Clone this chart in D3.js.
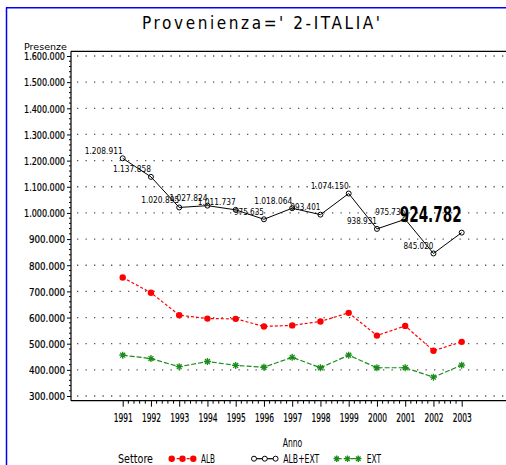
<!DOCTYPE html>
<html><head><meta charset="utf-8">
<script src="https://cdn.jsdelivr.net/npm/d3@7/dist/d3.min.js"></script>
<style>
html,body{margin:0;padding:0;background:#fff;}
svg{display:block;}
text{font-family:"DejaVu Sans Condensed","DejaVu Sans","Liberation Sans",sans-serif;}
</style></head>
<body>
<script>
const years = [1991,1992,1993,1994,1995,1996,1997,1998,1999,2000,2001,2002,2003];
const alb = [753000,695000,609000,596000,595000,566000,570000,585000,618000,531000,568000,473000,507000];
const albExt = [1208911,1137858,1020895,1027824,1011737,975635,1018064,993401,1074150,938931,975736,845020,924782];
const ext = [456000,443000,412000,432000,417000,410000,448000,408000,456000,408000,408000,372000,418000];
const yTicks = [300000,400000,500000,600000,700000,800000,900000,1000000,1100000,1200000,1300000,1400000,1500000,1600000];
const seriesNames = ["ALB","ALB+EXT","EXT"];
const title = "Provenienza=' 2-ITALIA'";

(function(){
const W=506,H=465;
const svg = d3.select("body").append("svg").attr("width",W).attr("height",H);
const fmt = v => d3.format(",")(v).replace(/,/g,".");
const fit = (sel,w) => sel.attr("textLength",w).attr("lengthAdjust","spacingAndGlyphs");

const x = d3.scaleLinear().domain([1991,2003]).range([122.7,461.7]);
const y = d3.scaleLinear().domain([300000,1600000]).range([396,56]);
const pLeft=71, pTop=51.3, pBottom=400.7, pRight=506;

// blue border
svg.append("line").attr("x1",6.5).attr("x2",6.5).attr("y1",7.5).attr("y2",H).attr("stroke","#0000ff").attr("stroke-width",1.5);
svg.append("line").attr("x1",6).attr("x2",W).attr("y1",7.8).attr("y2",7.8).attr("stroke","#0000ff").attr("stroke-width",1.5);

// title
svg.append("text").attr("x",142).attr("y",28.5).attr("font-size",17).attr("font-family","'DejaVu Sans Condensed',sans-serif")
  .attr("textLength",238).attr("lengthAdjust","spacing").text(title);

// grid
svg.append("g").selectAll("line").data(yTicks).join("line")
  .attr("x1",pLeft+6).attr("x2",pRight).attr("y1",d=>y(d)).attr("y2",d=>y(d))
  .attr("stroke","#555").attr("stroke-width",1.3).attr("stroke-dasharray","1.3,7.2");

// frame lines
svg.append("line").attr("x1",pLeft).attr("x2",pRight).attr("y1",pTop).attr("y2",pTop).attr("stroke","#000").attr("stroke-width",1.2);
svg.append("line").attr("x1",pLeft).attr("x2",pRight).attr("y1",pBottom).attr("y2",pBottom).attr("stroke","#000").attr("stroke-width",1.2);
svg.append("line").attr("x1",pLeft).attr("x2",pLeft).attr("y1",pTop).attr("y2",pBottom).attr("stroke","#000").attr("stroke-width",1.2);

// y axis
const yAxis = d3.axisLeft(y).tickValues(yTicks).tickSize(4).tickFormat(fmt).tickPadding(2);
const gy = svg.append("g").attr("transform",`translate(${pLeft},0)`).call(yAxis);
gy.select(".domain").remove();
gy.selectAll("text").attr("font-size",10.5).attr("font-family",null).attr("dy","0.36em")
  .attr("stroke","#000").attr("stroke-width",0.2)
  .each(function(d){ fit(d3.select(this), fmt(d).length>7 ? 41 : 36); });
const yMinor = [];
for(let i=0;i<yTicks.length-1;i++) for(let k=1;k<5;k++) yMinor.push(yTicks[i]+k*20000);
svg.append("g").selectAll("line").data(yMinor).join("line")
  .attr("x1",pLeft-2).attr("x2",pLeft).attr("y1",d=>y(d)).attr("y2",d=>y(d)).attr("stroke","#000");
fit(svg.append("text").attr("x",67).attr("y",50).attr("text-anchor","end").attr("font-size",9.5).text("Presenze"),43);

// x axis
const xAxis = d3.axisBottom(x).tickValues(years).tickFormat(d3.format("d")).tickSize(6).tickPadding(3);
const gx = svg.append("g").attr("transform",`translate(0,${pBottom})`).call(xAxis);
gx.select(".domain").remove();
gx.selectAll("text").attr("font-size",11.5).attr("font-family",null).attr("y",13).attr("dy","0.72em")
  .attr("stroke","#000").attr("stroke-width",0.2)
  .each(function(){ fit(d3.select(this),19); });
const xMinor=[];
for(let i=0;i<years.length-1;i++) for(let k=1;k<5;k++) xMinor.push(years[i]+k/5);
svg.append("g").selectAll("line").data(xMinor).join("line")
  .attr("x1",d=>x(d)).attr("x2",d=>x(d)).attr("y1",pBottom).attr("y2",pBottom+3).attr("stroke","#000");
fit(svg.append("text").attr("x",292.5).attr("y",446.5).attr("text-anchor","middle").attr("font-size",11.5).text("Anno"),19.6);

const line = d3.line().x((d,i)=>x(years[i])).y(d=>y(d));
const RED="#ff0000", GREEN="#1a8c1a";
const starPath = s => `M${-s},0L${s},0M0,${-s}L0,${s}M${-s*0.7},${-s*0.7}L${s*0.7},${s*0.7}M${-s*0.7},${s*0.7}L${s*0.7},${-s*0.7}`;

// EXT
svg.append("path").attr("d",line(ext)).attr("fill","none").attr("stroke",GREEN).attr("stroke-width",1.2).attr("stroke-dasharray","5,2");
svg.append("g").selectAll("path").data(ext).join("path")
  .attr("transform",(d,i)=>`translate(${x(years[i])},${y(d)})`).attr("d",starPath(3.5))
  .attr("stroke",GREEN).attr("stroke-width",1.3).attr("fill","none");

// ALB
svg.append("path").attr("d",line(alb)).attr("fill","none").attr("stroke",RED).attr("stroke-width",1.2).attr("stroke-dasharray","3,2");
svg.append("g").selectAll("circle").data(alb).join("circle")
  .attr("cx",(d,i)=>x(years[i])).attr("cy",d=>y(d)).attr("r",3.2).attr("fill",RED);

// ALB+EXT
svg.append("path").attr("d",line(albExt)).attr("fill","none").attr("stroke","#000").attr("stroke-width",1);
svg.append("g").selectAll("circle").data(albExt).join("circle")
  .attr("cx",(d,i)=>x(years[i])).attr("cy",d=>y(d)).attr("r",2.5).attr("fill","none").attr("stroke","#000").attr("stroke-width",1);

// point labels
const last = albExt.length-1;
svg.append("g").selectAll("text").data(albExt).join("text")
  .attr("x",(d,i)=>x(years[i])).attr("y",(d,i)=> i===last ? y(d)-11 : y(d)-4.5)
  .attr("text-anchor","end")
  .attr("font-family","'Liberation Sans',sans-serif")
  .attr("font-weight",(d,i)=> i===last ? "bold" : "normal")
  .attr("font-size",(d,i)=> i===last ? 22 : 9.5)
  .text(d=>fmt(d))
  .each(function(d,i){ fit(d3.select(this), i===last ? 62 : (fmt(d).length>7 ? 38 : 30)); });

// legend
const lg = svg.append("g");
fit(lg.append("text").attr("x",118).attr("y",463).attr("font-size",11.5).text("Settore"),35);
const legendItems = [
  {name:seriesNames[0], x0:171.7, tx:201, w:14},
  {name:seriesNames[1], x0:254, tx:283.3, w:36},
  {name:seriesNames[2], x0:336.7, tx:366.7, w:14.3}
];
const ly=458.7;
legendItems.forEach((it,j)=>{
  const xs=[it.x0,it.x0+10.8,it.x0+21.6];
  const col = j===0?RED:(j===1?"#000":GREEN);
  lg.append("line").attr("x1",xs[0]).attr("x2",xs[2]).attr("y1",ly).attr("y2",ly).attr("stroke",col).attr("stroke-width",1.2)
    .attr("stroke-dasharray", j===0?"3,2":(j===2?"5,2":null));
  xs.forEach(xx=>{
    if(j===0) lg.append("circle").attr("cx",xx).attr("cy",ly).attr("r",3.2).attr("fill",RED);
    else if(j===1) lg.append("circle").attr("cx",xx).attr("cy",ly).attr("r",2.5).attr("fill","#fff").attr("stroke","#000");
    else lg.append("path").attr("transform",`translate(${xx},${ly})`).attr("d",starPath(3.2)).attr("stroke",GREEN).attr("stroke-width",1.3);
  });
  fit(lg.append("text").attr("x",it.tx).attr("y",463).attr("font-size",11.5).text(it.name),it.w);
});
})();
</script>
</body></html>
